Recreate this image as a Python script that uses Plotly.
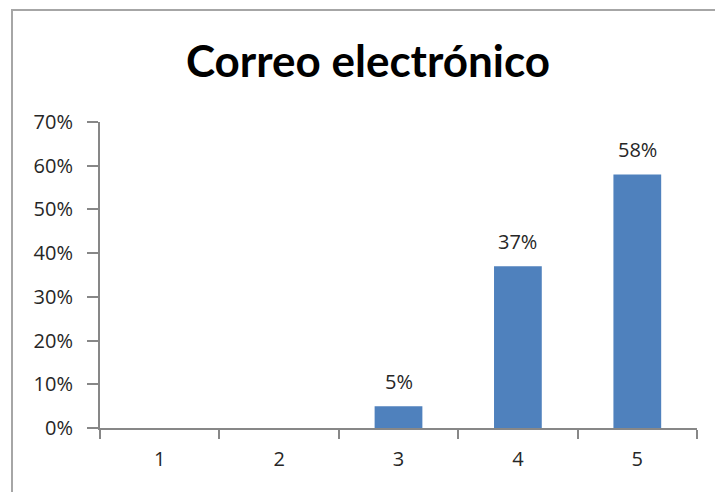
import plotly.graph_objects as go

# Survey answers on a 1-5 scale and the share of respondents for each
categories = ["1", "2", "3", "4", "5"]
shares = [0.0, 0.0, 0.05, 0.37, 0.58]
labels = ["", "", "5%", "37%", "58%"]
y_ticks = [0, 0.1, 0.2, 0.3, 0.4, 0.5, 0.6, 0.7]
y_tick_text = ["0%", "10%", "20%", "30%", "40%", "50%", "60%", "70%"]

W, H = 715, 492
L, R, T, B = 100, 18, 122, 64
pw, ph = W - L - R, H - T - B

axis_grey = "#878787"
text_col = "#262626"
tick_font = dict(family="Open Sans, DejaVu Sans, sans-serif", size=20, color=text_col)

fig = go.Figure(
    go.Bar(
        x=categories,
        y=shares,
        width=0.4,
        marker=dict(color="#4F81BD", line=dict(width=0)),
        hoverinfo="skip",
    )
)

# value labels above the bars
for i, (val, lab) in enumerate(zip(shares, labels)):
    if lab:
        fig.add_annotation(
            x=i, y=val, text=lab, showarrow=False,
            yanchor="middle", yshift=25, font=tick_font,
        )

# thin grey frame around the chart area
fig.add_shape(
    type="rect", xref="paper", yref="paper",
    x0=(12 - L) / pw, x1=(W + 5 - L) / pw,
    y0=-(H + 5 - T - ph) / ph, y1=(H - 10 - B) / ph,
    line=dict(color="#A6A6A6", width=2), layer="below",
)

fig.update_layout(
    width=W, height=H,
    margin=dict(l=L, r=R, t=T, b=B, pad=0),
    paper_bgcolor="white", plot_bgcolor="white",
    showlegend=False,
    title=dict(
        text="<b>Correo electrónico</b>",
        x=368 / W, xanchor="center", y=1 - 62 / H, yanchor="middle",
        font=dict(family="Lato, Open Sans, sans-serif", size=44, color="black"),
    ),
    xaxis=dict(
        type="category", range=[-0.5, 4.5],
        showline=True, linecolor=axis_grey, linewidth=2,
        ticks="outside", tickson="boundaries", ticklen=9,
        tickcolor=axis_grey, tickwidth=2,
        showgrid=False, zeroline=False,
        tickfont=tick_font, ticklabelstandoff=12,
    ),
    yaxis=dict(
        range=[0, 0.7], tickvals=y_ticks, ticktext=y_tick_text,
        showline=True, linecolor=axis_grey, linewidth=2,
        ticks="outside", ticklen=11, tickcolor=axis_grey, tickwidth=2,
        showgrid=False, zeroline=False,
        tickfont=tick_font, ticklabelstandoff=10,
    ),
)

fig.write_html("out.html")
